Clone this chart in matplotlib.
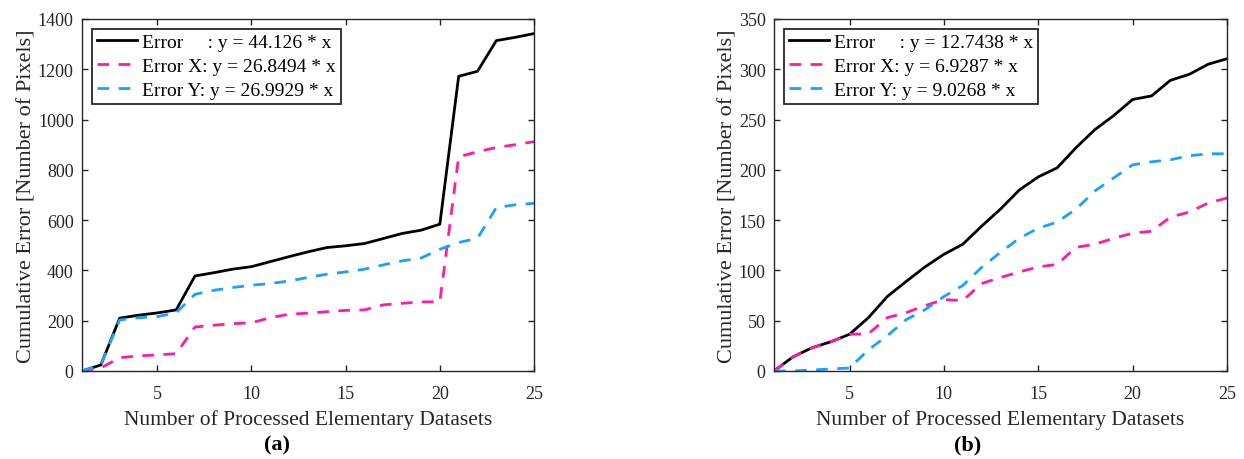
import matplotlib
matplotlib.use("Agg")
import matplotlib.pyplot as plt

plt.rcParams['font.family'] = ['Liberation Serif', 'DejaVu Serif']

x = list(range(1, 26))

# Panel (a)
a_err = [0, 24, 210, 222, 231, 243, 378, 391, 405, 415, 435, 455, 474, 491, 498,
         507, 527, 547, 560, 584, 1172, 1192, 1314, 1327, 1342]
a_errx = [0, 12, 53, 60, 64, 69, 175, 182, 188, 192, 212, 226, 230, 236, 241,
          243, 263, 269, 275, 275, 852, 872, 889, 900, 912]
a_erry = [0, 24, 203, 212, 216, 232, 305, 321, 332, 341, 348, 358, 372, 385, 394,
          405, 422, 438, 449, 484, 511, 528, 650, 661, 667]
a_labels = ["Error     : y = 44.126 * x", "Error X: y = 26.8494 * x", "Error Y: y = 26.9929 * x"]
a_yticks = [0, 200, 400, 600, 800, 1000, 1200, 1400]

# Panel (b)
b_err = [0, 14, 23, 29, 36.5, 53, 74, 89, 103.5, 116, 126, 144, 161, 180, 193,
         202, 222, 240, 254, 270, 273.5, 289, 295, 305, 310.5]
b_errx = [0, 14, 23, 29, 36.5, 37, 53, 58, 65, 71, 70, 87, 93, 98.5, 103.5,
          106, 123, 126, 132, 137, 139, 153, 158, 167, 172]
b_erry = [0, 0, 1, 2, 3, 21, 35, 51, 61, 74, 85, 103, 118, 132, 142,
          148, 161, 179, 192, 205, 208, 210, 214, 216, 216]
b_labels = ["Error     : y = 12.7438 * x", "Error X: y = 6.9287 * x", "Error Y: y = 9.0268 * x"]
b_yticks = [0, 50, 100, 150, 200, 250, 300, 350]

xticks = [5, 10, 15, 20, 25]
xlabel = "Number of Processed Elementary Datasets"
ylabel = "Cumulative Error [Number of Pixels]"

C_BLACK = "#000000"
C_MAG = "#FF1AA8"
C_BLUE = "#1AA0FF"
AX_COL = "#262626"

W, H = 1244, 460
fig = plt.figure(figsize=(W / 100, H / 100), dpi=100)

def panel(rect, e, ex, ey, labels, yticks, tag, tag_x):
    ax = fig.add_axes(rect)
    ax.plot(x, e, color=C_BLACK, lw=2.0, label=labels[0])
    ax.plot(x, ex, color=C_MAG, lw=2.0, dashes=(4.2, 3.4), label=labels[1])
    ax.plot(x, ey, color=C_BLUE, lw=2.0, dashes=(4.2, 3.4), label=labels[2])
    ax.set_xlim(1, 25)
    ax.set_ylim(yticks[0], yticks[-1])
    ax.set_xticks(xticks)
    ax.set_yticks(yticks)
    ax.tick_params(direction='in', top=True, right=True, length=4, width=1,
                   colors=AX_COL, labelsize=13, labelcolor=AX_COL, pad=6)
    ax.tick_params(axis='x', pad=10)
    for s in ax.spines.values():
        s.set_color(AX_COL)
        s.set_linewidth(1.0)
    ax.set_xlabel(xlabel, fontsize=15.5, color=AX_COL, labelpad=5)
    ax.set_ylabel(ylabel, fontsize=16, color=AX_COL, labelpad=1)
    leg = ax.legend(loc='upper left', fontsize=14, frameon=True, fancybox=False,
                    edgecolor=AX_COL, framealpha=1, handlelength=2.1,
                    borderpad=0.25, labelspacing=0.32, handletextpad=0.25,
                    borderaxespad=0.5)
    leg.get_frame().set_linewidth(1.3)
    fig.text(tag_x / W, 1 - 445 / H, tag, ha='center', va='center', fontsize=16,
             fontweight='bold', color='black')
    return ax

panel([82 / W, 1 - 372 / H, 452 / W, 352 / H], a_err, a_errx, a_erry, a_labels, a_yticks, "(a)", 277)
panel([774 / W, 1 - 372 / H, 453 / W, 352 / H], b_err, b_errx, b_erry, b_labels, b_yticks, "(b)", 968)

fig.savefig("out.png", dpi=100)
